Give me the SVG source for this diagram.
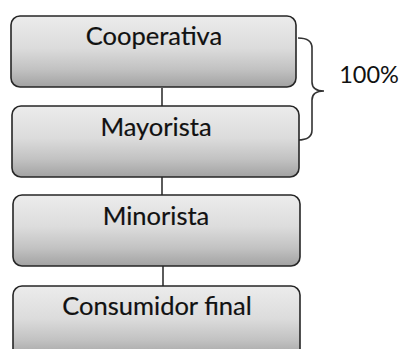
<svg xmlns="http://www.w3.org/2000/svg" width="401" height="349" viewBox="0 0 401 349">
  <defs>
    <linearGradient id="boxFill" x1="0" y1="0" x2="0" y2="1">
      <stop offset="0" stop-color="#ececec"/>
      <stop offset="0.45" stop-color="#dcdcdc"/>
      <stop offset="0.75" stop-color="#c2c2c2"/>
      <stop offset="1" stop-color="#a2a2a2"/>
    </linearGradient>
  </defs>
  <style>
    .box { fill: url(#boxFill); stroke: #262626; stroke-width: 1.6; }
    .label { font-family: Lato, "Liberation Sans", sans-serif; font-size: 25.5px; fill: #111; stroke: #111; stroke-width: 0.2; text-anchor: middle; }
    .link { stroke: #333; stroke-width: 1.6; fill: none; }
  </style>
  <rect width="401" height="349" fill="#ffffff"/>

  <!-- connectors between the stages of the chain -->
  <g id="connectors">
    <line class="link" x1="162" y1="88" x2="162" y2="106"/>
    <line class="link" x1="162" y1="177" x2="162" y2="195"/>
    <line class="link" x1="163" y1="266" x2="163" y2="286"/>
    <!-- curly brace spanning the first two stages -->
    <path class="link" stroke-width="1.8" d="M298,38 Q312,38 312,48 L312,82 Q312,91 324,91 Q312,91 312,100 L312,130 Q312,140 298,140"/>
  </g>

  <g id="cooperativa">
    <rect class="box" x="11" y="16" width="285" height="71" rx="9"/>
    <text class="label" x="154" y="45">Cooperativa</text>
  </g>
  <g id="mayorista">
    <rect class="box" x="12" y="106" width="287" height="71" rx="9"/>
    <text class="label" x="156" y="136">Mayorista</text>
  </g>
  <g id="minorista">
    <rect class="box" x="13" y="195" width="287" height="71" rx="9"/>
    <text class="label" x="156" y="225">Minorista</text>
  </g>
  <g id="consumidor">
    <rect class="box" x="13" y="286" width="287" height="72" rx="9"/>
    <text class="label" x="157" y="315">Consumidor final</text>
  </g>

  <g id="share">
    <text class="label" x="369" y="83" style="font-size:23.5px;stroke-width:0">100%</text>
  </g>
</svg>
